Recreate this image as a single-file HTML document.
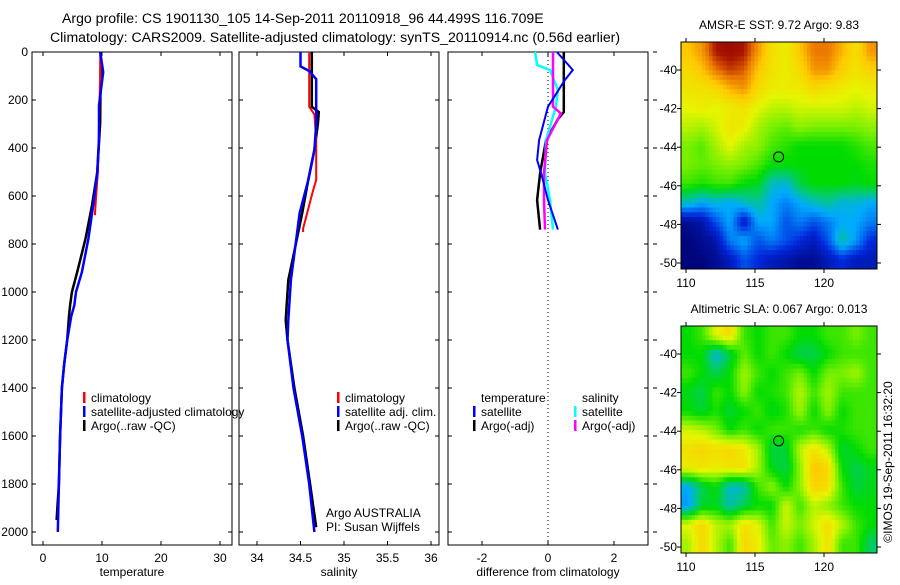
<!DOCTYPE html>
<html><head><meta charset="utf-8"><style>
body{margin:0;background:#fff;width:900px;height:580px;overflow:hidden}
svg text{font-family:"Liberation Sans",sans-serif;font-size:12px;fill:#000}
</style></head><body>
<svg id="chart" width="900" height="580" xmlns="http://www.w3.org/2000/svg">
<text x="62" y="23" style="font-size:14.1px">Argo profile: CS 1901130_105 14-Sep-2011 20110918_96 44.499S 116.709E</text>
<text x="50" y="42" style="font-size:14.1px">Climatology: CARS2009. Satellite-adjusted climatology: synTS_20110914.nc (0.56d earlier)</text>
<g id="g"></g>
</svg>
<script>
// ---- data ----
const depthTicks=[0,200,400,600,800,1000,1200,1400,1600,1800,2000];
const tempTicks=[0,10,20,30];
const salTicks=[34,34.5,35,35.5,36];
const diffTicks=[-2,0,2];
const climTDepth=[0,100,200,300,400,500,600,680];
const climT=[9.7,9.7,9.6,9.5,9.4,9.3,9.0,8.8];
const satTDepth=[0,84,222,361,500,639,778,917,1000,1056,1100,1200,1300,1400,1600,1800,2000];
const satT=[9.7,10.2,9.5,9.5,9.2,8.5,7.7,6.6,5.6,5.3,4.8,4.1,3.6,3.2,2.9,2.7,2.5];
const argoTDepth=[0,292,500,639,778,917,1000,1056,1100,1200,1300,1400,1600,1800,1950];
const argoT=[9.8,9.7,9.2,8.3,7.2,5.8,4.9,4.6,4.4,4.1,3.6,3.2,2.9,2.7,2.3];
const climSDepth=[0,228,260,367,533,583,736,750];
const climS=[34.6,34.6,34.66,34.68,34.68,34.64,34.53,34.53];
const satSDepth=[0,60,79,113,300,408,533,672,811,950,1117,1200,1400,1600,1800,2000];
const satS=[34.5,34.5,34.6,34.68,34.68,34.66,34.59,34.49,34.44,34.39,34.36,34.35,34.42,34.52,34.6,34.66];
const argoSDepth=[0,228,250,300,408,533,672,811,950,1117,1200,1400,1600,1800,1980];
const argoS=[34.63,34.63,34.71,34.7,34.66,34.59,34.52,34.44,34.36,34.33,34.35,34.43,34.53,34.61,34.68];
const dTsatDepth=[0,75,117,228,367,450,505,617,740];
const dTsat=[0.27,0.75,0.51,0,-0.27,-0.33,-0.21,0,0.3];
const dTargoDepth=[0,250,280,367,505,617,740];
const dTargo=[0.48,0.48,0.3,-0.06,-0.24,-0.33,-0.24];
const dSsatDepth=[0,54,75,158,228,367,505,617,740];
const dSsat=[-0.39,-0.33,0.06,0.3,0.24,-0.06,-0.09,0.06,0.15];
const dSargoDepth=[0,200,228,256,367,505,617,740];
const dSargo=[0.15,0.15,0.15,0.39,-0.03,-0.12,-0.12,-0.09];
const lonTicks=[110,115,120];
const latTicks=[-40,-42,-44,-46,-48,-50];
const sstGrid=[
[.8,.85,.95,.97,.95,.85,.75,.72,.8,.88,.88,.82,.75,.85],
[.76,.8,.88,.92,.9,.8,.74,.72,.76,.85,.85,.78,.74,.78],
[.74,.74,.76,.82,.85,.76,.72,.72,.72,.76,.74,.72,.7,.72],
[.7,.72,.7,.72,.74,.7,.66,.66,.68,.68,.68,.68,.66,.68],
[.66,.64,.68,.74,.72,.64,.6,.58,.62,.6,.6,.6,.6,.62],
[.6,.57,.64,.7,.64,.62,.56,.53,.5,.5,.5,.5,.53,.56],
[.6,.58,.6,.62,.6,.56,.5,.5,.5,.5,.5,.5,.5,.52],
[.55,.52,.55,.55,.5,.48,.35,.33,.45,.5,.5,.5,.48,.5],
[.35,.3,.33,.3,.35,.38,.3,.25,.3,.35,.38,.33,.33,.3],
[.05,.08,.2,.3,.1,.3,.3,.2,.25,.2,.25,.3,.3,.25],
[.02,.05,.08,.25,.3,.2,.25,.2,.15,.1,.2,.38,.28,.15],
[.02,.02,.05,.1,.2,.15,.1,.08,.05,.05,.1,.15,.1,.1]];
const slaGrid=[
[.5,.55,.7,.76,.55,.5,.55,.55,.5,.5,.55,.55,.6,.55],
[.5,.5,.32,.45,.58,.5,.55,.5,.44,.44,.5,.55,.55,.55],
[.55,.5,.44,.5,.64,.55,.5,.55,.6,.5,.6,.6,.64,.55],
[.48,.44,.55,.5,.62,.5,.52,.55,.66,.55,.64,.55,.55,.55],
[.5,.46,.52,.46,.5,.55,.48,.52,.64,.5,.62,.5,.55,.55],
[.68,.66,.6,.5,.55,.5,.55,.55,.52,.55,.5,.52,.55,.55],
[.75,.77,.75,.77,.73,.64,.45,.46,.66,.74,.66,.46,.5,.55],
[.72,.74,.72,.74,.75,.64,.48,.44,.62,.8,.77,.5,.44,.48],
[.3,.44,.5,.34,.36,.55,.62,.5,.62,.78,.75,.55,.45,.48],
[.28,.46,.48,.36,.44,.5,.5,.68,.55,.66,.62,.55,.5,.5],
[.7,.77,.66,.64,.75,.7,.55,.68,.6,.68,.75,.66,.55,.5],
[.64,.77,.66,.55,.77,.72,.58,.62,.55,.64,.75,.55,.55,.42]];
const floatLon=116.709, floatLat=-44.499;

// ---- helpers ----
const NS='http://www.w3.org/2000/svg';
const G=document.getElementById('g');
function mk(t,a,p){const e=document.createElementNS(NS,t);for(const k in a)e.setAttribute(k,a[k]);(p||G).appendChild(e);return e;}
const TOP=52,BOT=545;
const yD=d=>TOP+d*0.24;
function lin(d0,d1,r0,r1){return v=>r0+(v-d0)*(r1-r0)/(d1-d0);}
const panels=[
 {name:'temperature-panel',l:32,r:232,x:lin(0,10,43,102),ticks:tempTicks,label:'temperature',ylab:true},
 {name:'salinity-panel',l:239,r:439,x:lin(34,35,257,344),ticks:salTicks,label:'salinity'},
 {name:'difference-panel',l:448,r:648,x:lin(0,2,548,614),ticks:diffTicks,label:'difference from climatology'}];
panels.forEach(p=>{
 const a=mk('rect',{x:p.l,y:TOP,width:p.r-p.l,height:BOT-TOP,fill:'none',stroke:'#000','stroke-width':1});
 
 
 p.ticks.forEach(t=>{const X=p.x(t);
  mk('line',{x1:X,x2:X,y1:BOT,y2:BOT-4,stroke:'#000'});mk('line',{x1:X,x2:X,y1:TOP,y2:TOP+4,stroke:'#000'});
  const tx=mk('text',{x:X,y:BOT+17,'text-anchor':'middle'});tx.textContent=t;
  
  });
 depthTicks.forEach(d=>{const Y=yD(d);
  mk('line',{x1:p.l,x2:p.l+4,y1:Y,y2:Y,stroke:'#000'});mk('line',{x1:p.r,x2:p.r-4,y1:Y,y2:Y,stroke:'#000'});
  if(p.ylab){const tx=mk('text',{x:28,y:Y+4,'text-anchor':'end'});tx.textContent=d;
   
   }
  if(p.name==='difference-panel')mk('line',{x1:653,x2:657,y1:Y,y2:Y,stroke:'#000'});});
 const xl=mk('text',{x:(p.l+p.r)/2,y:BOT+31,'text-anchor':'middle'});xl.textContent=p.label;
 
 
});
function line(px,ds,vs,col,w,name){
 const pts=ds.map((d,i)=>px.x(vs[i]).toFixed(1)+','+yD(d).toFixed(1)).join(' ');
 const e=mk('polyline',{points:pts,fill:'none',stroke:col,'stroke-width':w});
 
 
}
const [PT,PS,PD]=panels;
line(PT,argoTDepth,argoT,'#000',2.5,'temp-argo-line');
line(PT,climTDepth,climT,'#f00',2,'temp-climatology-line');
line(PT,satTDepth,satT,'#00f',2.5,'temp-satellite-line');
line(PS,argoSDepth,argoS,'#000',2.5,'sal-argo-line');
line(PS,climSDepth,climS,'#f00',2,'sal-climatology-line');
line(PS,satSDepth,satS,'#00f',2.5,'sal-satellite-line');
mk('line',{x1:548,x2:548,y1:TOP,y2:BOT,stroke:'#000','stroke-dasharray':'1,3'});
line(PD,dTargoDepth,dTargo,'#000',2.5,'diff-temp-argo-line');
line(PD,dSsatDepth,dSsat,'#0ff',2.5,'diff-sal-satellite-line');
line(PD,dSargoDepth,dSargo,'#f0f',2.5,'diff-sal-argo-line');
line(PD,dTsatDepth,dTsat,'#00f',2,'diff-temp-satellite-line');
function leg(x,y,col,txt,name){
 if(col){const m=mk('rect',{x:x,y:y-10,width:2.5,height:11,fill:col});
  
  }
 const t=mk('text',{x:x+8,y:y});t.textContent=txt;
 
 
}
leg(83,402,'#f00','climatology','legend-entry-climatology');
leg(83,416,'#00f','satellite-adjusted climatology','legend-entry-satellite');
leg(83,430,'#000','Argo(..raw -QC)','legend-entry-argo');
leg(337,402,'#f00','climatology','legend-entry-climatology');
leg(337,416,'#00f','satellite adj. clim.','legend-entry-satellite');
leg(337,430,'#000','Argo(..raw -QC)','legend-entry-argo');
leg(473,402,null,'temperature','legend-temperature-header');
leg(473,416,'#00f','satellite','legend-entry-temp-satellite');
leg(473,430,'#000','Argo(-adj)','legend-entry-temp-argo');
leg(574,402,null,'salinity','legend-salinity-header');
leg(574,416,'#0ff','satellite','legend-entry-sal-satellite');
leg(574,430,'#f0f','Argo(-adj)','legend-entry-sal-argo');
const c1=mk('text',{x:326,y:517});c1.textContent='Argo AUSTRALIA';


const c2=mk('text',{x:326,y:531});c2.textContent='PI: Susan Wijffels';


// ---- maps ----
const stops=[[0,[0,0,110]],[0.15,[0,40,220]],[0.3,[0,170,255]],[0.4,[0,200,130]],[0.5,[0,220,0]],[0.6,[120,240,0]],[0.7,[230,245,0]],[0.8,[255,200,0]],[0.88,[235,120,0]],[0.95,[170,20,0]],[1,[130,0,0]]];
function cmap(v){v=Math.max(0,Math.min(1,v));
 for(let i=1;i<stops.length;i++){if(v<=stops[i][0]){const [a,ca]=stops[i-1],[b,cb]=stops[i],t=(v-a)/(b-a);
  return 'rgb('+ca.map((c,k)=>Math.round(c+(cb[k]-c)*t)).join(',')+')';}}
 return 'rgb(130,0,0)';}
const defs=mk('defs',{});
function map(top,grid,title,name){
 const L=681,R=877,B=top+227;
 const lx=lin(110,115,686,755),ly=lin(-40,-42,top+28,top+66.6);
 const cp=mk('clipPath',{id:'c'+name},defs);mk('rect',{x:L,y:top,width:R-L,height:B-top},cp);
 const g=mk('g',{'clip-path':`url(#c${name})`});
 const nr=grid.length,nc=grid[0].length,S=4;
 const NR=nr*S,NC=nc*S,cw=(R-L)/NC,ch=(B-top)/NR;
 for(let i=0;i<NR;i++)for(let j=0;j<NC;j++){
  const fi=Math.max(0,Math.min(nr-1,(i+0.5)/S-0.5)),fj=Math.max(0,Math.min(nc-1,(j+0.5)/S-0.5));
  const i0=Math.floor(fi),j0=Math.floor(fj),i1=Math.min(nr-1,i0+1),j1=Math.min(nc-1,j0+1),ti=fi-i0,tj=fj-j0;
  const v=(grid[i0][j0]*(1-tj)+grid[i0][j1]*tj)*(1-ti)+(grid[i1][j0]*(1-tj)+grid[i1][j1]*tj)*ti;
  const c=mk('rect',{x:(L+j*cw).toFixed(2),y:(top+i*ch).toFixed(2),width:(cw+0.6).toFixed(2),height:(ch+0.6).toFixed(2),fill:cmap(v)},g);
  
  }
 const fr=mk('rect',{x:L,y:top,width:R-L,height:B-top,fill:'none',stroke:'#000'});
 
 
 lonTicks.forEach(t=>{const X=lx(t);mk('line',{x1:X,x2:X,y1:B,y2:B+4,stroke:'#000'});mk('line',{x1:X,x2:X,y1:top,y2:top-4,stroke:'#000'});
  const tx=mk('text',{x:X,y:B+18,'text-anchor':'middle'});tx.textContent=t;
  
  });
 latTicks.forEach(t=>{const Y=ly(t);mk('line',{x1:L-4,x2:L,y1:Y,y2:Y,stroke:'#000'});mk('line',{x1:R,x2:R+4,y1:Y,y2:Y,stroke:'#000'});
  const tx=mk('text',{x:677,y:Y+4,'text-anchor':'end'});tx.textContent=t;
  
  });
 const m=mk('circle',{cx:lx(floatLon),cy:ly(floatLat),r:5,fill:'none',stroke:'#000'});
 
 
 const tt=mk('text',{x:(L+R)/2,y:top-13,'text-anchor':'middle'});tt.textContent=title;
 
 
}
map(42,sstGrid,'AMSR-E SST: 9.72 Argo: 9.83','sst-map');
map(326,slaGrid,'Altimetric SLA: 0.067 Argo: 0.013','sla-map');
const st=mk('text',{x:0,y:0,transform:'translate(892,462) rotate(-90)','text-anchor':'middle'});
st.textContent='©IMOS 19-Sep-2011 16:32:20';


</script>
</body></html>
